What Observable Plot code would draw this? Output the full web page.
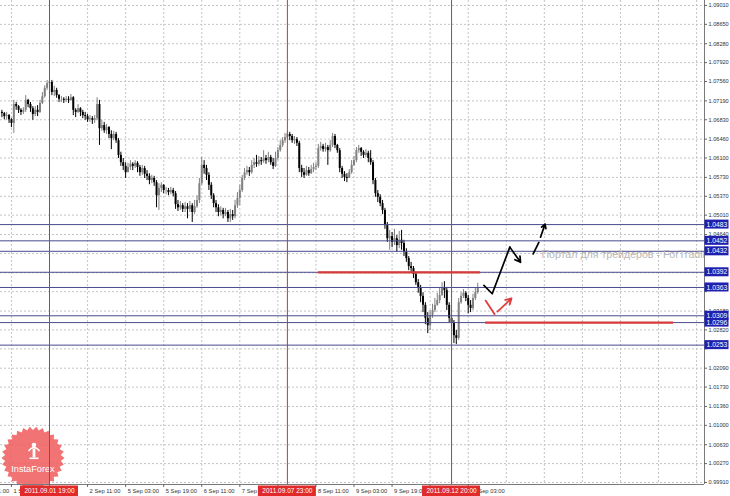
<!DOCTYPE html>
<html><head><meta charset="utf-8">
<script src="https://cdn.jsdelivr.net/npm/d3@7"></script>
<script src="https://cdn.jsdelivr.net/npm/@observablehq/plot@0.6"></script>
<style>body{margin:0;background:#fff}</style>
</head><body><div id="chart"></div>
<script>
// ---- DATA (hourly candles; bar index 0 = 2011.09.01 19:00) ----
const firstBar = -20;
const firstOpen = 1.0697;
const closes = [
1.0695,1.0689,1.0691,1.0683,1.0676,1.0712,1.0708,1.0701,1.0697,1.0701,
1.0720,1.0712,1.0704,1.0693,1.0701,1.0697,1.0714,1.0727,1.0743,1.0752,
1.0754,1.0735,1.0739,1.0729,1.0722,1.0722,1.0720,1.0722,1.0720,1.0725,
1.0701,1.0697,1.0704,1.0697,1.0691,1.0689,1.0683,1.0685,1.0682,1.0685,
1.0712,1.0666,1.0672,1.0662,1.0668,1.0655,1.0647,1.0655,1.0643,1.0615,
1.0601,1.0594,1.0582,1.0592,1.0598,1.0594,1.0600,1.0592,1.0582,1.0590,
1.0579,1.0575,1.0567,1.0571,1.0563,1.0538,1.0552,1.0558,1.0548,1.0548,
1.0544,1.0548,1.0542,1.0521,1.0515,1.0519,1.0512,1.0517,1.0512,1.0519,
1.0506,1.0517,1.0529,1.0561,1.0596,1.0590,1.0577,1.0558,1.0538,1.0523,
1.0515,1.0506,1.0510,1.0502,1.0506,1.0494,1.0502,1.0498,1.0519,1.0533,
1.0548,1.0571,1.0582,1.0586,1.0582,1.0596,1.0601,1.0598,1.0605,1.0603,
1.0609,1.0605,1.0611,1.0601,1.0594,1.0609,1.0624,1.0634,1.0643,1.0649,
1.0655,1.0651,1.0643,1.0645,1.0638,1.0590,1.0582,1.0577,1.0586,1.0580,
1.0588,1.0592,1.0594,1.0628,1.0632,1.0626,1.0630,1.0624,1.0634,1.0651,
1.0634,1.0624,1.0590,1.0579,1.0573,1.0571,1.0582,1.0596,1.0605,1.0624,
1.0628,1.0621,1.0615,1.0619,1.0609,1.0601,1.0567,1.0542,1.0535,1.0523,
1.0510,1.0481,1.0456,1.0460,1.0449,1.0456,1.0443,1.0453,1.0447,1.0430,
1.0418,1.0403,1.0399,1.0388,1.0372,1.0361,1.0346,1.0329,1.0304,1.0290,
1.0310,1.0319,1.0329,1.0338,1.0348,1.0361,1.0357,1.0329,1.0304,1.0296,
1.0271,1.0266,1.0334,1.0346,1.0352,1.0342,1.0329,1.0323,1.0342,1.0353,1.0363];
const highs = [
1.0701,1.0697,1.0697,1.0693,1.0685,1.0720,1.0716,1.0710,1.0704,1.0706,
1.0729,1.0722,1.0716,1.0708,1.0708,1.0710,1.0720,1.0735,1.0748,1.0758,
1.0760,1.0758,1.0747,1.0743,1.0731,1.0727,1.0725,1.0727,1.0727,1.0731,
1.0727,1.0704,1.0712,1.0706,1.0701,1.0697,1.0693,1.0691,1.0689,1.0691,
1.0725,1.0720,1.0682,1.0678,1.0674,1.0670,1.0662,1.0661,1.0659,1.0647,
1.0621,1.0609,1.0601,1.0600,1.0605,1.0601,1.0605,1.0603,1.0596,1.0596,
1.0594,1.0586,1.0580,1.0577,1.0575,1.0567,1.0561,1.0563,1.0559,1.0554,
1.0552,1.0554,1.0552,1.0546,1.0529,1.0527,1.0523,1.0525,1.0523,1.0527,
1.0523,1.0529,1.0538,1.0571,1.0611,1.0605,1.0596,1.0582,1.0563,1.0542,
1.0529,1.0521,1.0517,1.0514,1.0514,1.0510,1.0512,1.0510,1.0529,1.0544,
1.0558,1.0577,1.0590,1.0594,1.0592,1.0605,1.0609,1.0615,1.0613,1.0611,
1.0624,1.0615,1.0621,1.0615,1.0609,1.0621,1.0630,1.0643,1.0649,1.0657,
1.0661,1.0659,1.0655,1.0651,1.0649,1.0642,1.0596,1.0590,1.0594,1.0592,
1.0596,1.0600,1.0601,1.0636,1.0640,1.0636,1.0638,1.0634,1.0643,1.0657,
1.0655,1.0636,1.0628,1.0594,1.0584,1.0580,1.0588,1.0605,1.0613,1.0630,
1.0634,1.0630,1.0624,1.0626,1.0623,1.0624,1.0605,1.0571,1.0548,1.0540,
1.0529,1.0514,1.0487,1.0472,1.0468,1.0474,1.0462,1.0470,1.0472,1.0453,
1.0437,1.0422,1.0411,1.0403,1.0392,1.0378,1.0367,1.0353,1.0334,1.0315,
1.0319,1.0331,1.0342,1.0352,1.0361,1.0372,1.0374,1.0363,1.0334,1.0310,
1.0300,1.0281,1.0342,1.0353,1.0359,1.0355,1.0348,1.0338,1.0350,1.0361,1.0371];
const lows = [
1.0687,1.0683,1.0682,1.0676,1.0668,1.0657,1.0701,1.0695,1.0691,1.0693,
1.0697,1.0706,1.0697,1.0682,1.0689,1.0689,1.0695,1.0712,1.0724,1.0739,
1.0747,1.0729,1.0727,1.0724,1.0716,1.0716,1.0714,1.0716,1.0714,1.0718,
1.0691,1.0687,1.0695,1.0689,1.0685,1.0682,1.0678,1.0678,1.0674,1.0676,
1.0682,1.0634,1.0661,1.0657,1.0655,1.0647,1.0626,1.0643,1.0638,1.0609,
1.0594,1.0586,1.0571,1.0582,1.0586,1.0586,1.0590,1.0582,1.0575,1.0577,
1.0571,1.0567,1.0559,1.0561,1.0556,1.0515,1.0510,1.0544,1.0542,1.0540,
1.0538,1.0540,1.0536,1.0512,1.0508,1.0510,1.0506,1.0506,1.0494,1.0506,
1.0487,1.0502,1.0514,1.0523,1.0558,1.0579,1.0567,1.0548,1.0531,1.0515,
1.0506,1.0498,1.0500,1.0494,1.0498,1.0487,1.0487,1.0491,1.0494,1.0514,
1.0519,1.0544,1.0567,1.0577,1.0575,1.0579,1.0590,1.0592,1.0594,1.0596,
1.0600,1.0598,1.0601,1.0596,1.0588,1.0592,1.0605,1.0621,1.0630,1.0638,
1.0645,1.0643,1.0638,1.0636,1.0632,1.0582,1.0573,1.0571,1.0575,1.0575,
1.0579,1.0582,1.0586,1.0590,1.0623,1.0621,1.0621,1.0596,1.0621,1.0630,
1.0628,1.0619,1.0582,1.0571,1.0565,1.0563,1.0573,1.0579,1.0594,1.0601,
1.0619,1.0613,1.0609,1.0611,1.0601,1.0596,1.0559,1.0535,1.0525,1.0517,
1.0502,1.0474,1.0449,1.0434,1.0439,1.0443,1.0430,1.0437,1.0434,1.0422,
1.0411,1.0395,1.0392,1.0380,1.0367,1.0352,1.0334,1.0315,1.0292,1.0275,
1.0281,1.0304,1.0315,1.0327,1.0332,1.0346,1.0342,1.0319,1.0296,1.0285,
1.0256,1.0254,1.0262,1.0331,1.0342,1.0336,1.0313,1.0315,1.0319,1.0338,1.0350];

// time ticks every 16 bars; labels hidden behind the highlighted boxes are null
const timeTickIdx = [-32,-16,0,16,32,48,64,80,96,112,128,144,160,176];
const timeTickLabels = ["31 Aug 11:00","1 Sep 03:00",null,"2 Sep 11:00","5 Sep 03:00","5 Sep 19:00","6 Sep 11:00","7 Sep 03:00",null,"8 Sep 11:00","9 Sep 03:00","9 Sep 19:00",null,"13 Sep 03:00"];
const priceTicks = [1.0901,1.0865,1.0828,1.0792,1.0756,1.0719,1.0683,1.0646,1.0610,1.0573,1.0537,1.0501,1.0464,1.0428,1.0391,1.0355,1.0318,1.0282,1.0246,1.0209,1.0173,1.0136,1.0100,1.0063,1.0027,0.9991];
const priceTickLabels = ["1.09010","1.08650","1.08280","1.07920","1.07560","1.07190","1.06830","1.06460","1.06100","1.05730","1.05370","1.05010","1.04640",null,null,null,"1.03180","1.02820",null,"1.02090","1.01730","1.01360","1.01000","1.00630","1.00270","0.99910"];
const levels = [1.0483,1.0452,1.0432,1.0392,1.0363,1.0309,1.0296,1.0253];
const levelLabels = ["1.0483","1.0452","1.0432","1.0392","1.0363","1.0309","1.0296","1.0253"];
const markerIdx = [0,100,169];
const markerLabels = ["2011.09.01 19:00","2011.09.07 23:00","2011.09.12 20:00"];
const redLinePrice = [1.0392,1.0296];
const redLineFrom = [113.1,183.3];
const redLineTo = [181.2,262.3];
const blackPathIdx = [182.6,186.1,193.5,198.0];
const blackPathPrice = [1.0367,1.0351,1.0440,1.0411];
const dashPathIdx = [203.3,205.7,206.4,208.3];
const dashPathPrice = [1.0427,1.0449,1.0459,1.0484];
const redPathIdx = [183.3,187.1,188.3,194.2];
const redPathPrice = [1.0338,1.0312,1.0317,1.0342];
const portalText = "Портал для трейдеров - ForTrading";
const portalIdx = 206.8, portalPrice = 1.0426;

// ---- LAYOUT ----
const xDom = [-49/2.379, -49/2.379 + 704/2.379];
const yDom = [1.09105 - 484*0.00019078, 1.09105];
const U = (xDom[1]-xDom[0])/704;
const K = (yDom[1]-yDom[0])/484;
const xR = xDom[1], yB = yDom[0];

const bars = closes.map((c,k)=>{
  const o = k ? closes[k-1] : firstOpen;
  return {i: firstBar+k, o, c, h: Math.max(highs[k],o,c), l: Math.min(lows[k],o,c)};
});
const up = bars.filter(d=>d.c>=d.o), dn = bars.filter(d=>d.c<d.o);
const seg = (xs, ys, a, b) => xs.slice(a,b).map((x,k)=>({x, y: ys[a+k]}));
const timeLabelled = timeTickIdx.map((x,k)=>({x, t: timeTickLabels[k]})).filter(d=>d.t);
const priceLabelled = priceTicks.map((y,k)=>({y, t: priceTickLabels[k]})).filter(d=>d.t);

function logoMark(){
  const g = d3.create("svg:g").attr("opacity",0.9);
  const cx=33, cy=458, R=31.5, r=28, n=30, pts=[];
  for(let k=0;k<2*n;k++){const a=Math.PI*k/n, rr=k%2?r:R; pts.push([cx+rr*Math.cos(a), cy+rr*Math.sin(a)]);}
  g.append("polygon").attr("points", pts.map(p=>p.join(",")).join(" ")).attr("fill","#f06464");
  g.append("circle").attr("cx",34).attr("cy",445).attr("r",2.3).attr("fill","#fff");
  g.append("path").attr("d","M28.5,451 Q34,444 39.5,451").attr("stroke","#fff").attr("stroke-width",1.6).attr("fill","none");
  g.append("rect").attr("x",32.6).attr("y",448.5).attr("width",2.8).attr("height",9).attr("fill","#fff");
  g.append("rect").attr("x",29.5).attr("y",457.5).attr("width",9).attr("height",1.6).attr("fill","#fff");
  g.append("text").attr("x",33).attr("y",472).attr("text-anchor","middle").attr("font-size",9.2)
   .attr("font-family","Liberation Sans, Arial, sans-serif").attr("fill","#fff").text("InstaForex");
  return g.node();
}

const font = "Liberation Sans, Arial, sans-serif";
const chart = Plot.plot({
  width: 730, height: 496,
  marginLeft: 0, marginRight: 26, marginTop: 0, marginBottom: 12,
  style: {background: "#fff", fontFamily: font},
  x: {domain: xDom, axis: null},
  y: {domain: yDom, axis: null},
  marks: [
    Plot.ruleY(priceTicks, {stroke: "#c4c4c4", strokeDasharray: "2,2"}),
    Plot.ruleX(d3.range(-16, xR, 16), {stroke: "#c4c4c4", strokeDasharray: "2,2"}),
    logoMark,
    Plot.ruleX(up, {x: "i", y1: "l", y2: "h", stroke: "#808080", strokeWidth: 1}),
    Plot.ruleX(up, {x: "i", y1: "o", y2: "c", stroke: "#808080", strokeWidth: 2}),
    Plot.ruleX(dn, {x: "i", y1: "l", y2: "h", stroke: "#000", strokeWidth: 1}),
    Plot.ruleX(dn, {x: "i", y1: "o", y2: "c", stroke: "#000", strokeWidth: 2}),
    Plot.ruleY(levels, {stroke: "#4a4a8e", strokeWidth: 1}),
    Plot.ruleX(markerIdx, {stroke: "#c23838", strokeWidth: 1}),
    Plot.ruleY(redLinePrice, {y: d=>d, x1: (d,i)=>redLineFrom[i], x2: (d,i)=>redLineTo[i], stroke: "#d83a3a", strokeWidth: 2.2}),
    Plot.text([portalText], {x: ()=>portalIdx, y: ()=>portalPrice, text: d=>d, textAnchor: "start", fontSize: 10.6, fill: "#b8b8b8", fontFamily: font, clip: true}),
    Plot.line(seg(blackPathIdx, blackPathPrice, 0, 3), {x: "x", y: "y", stroke: "#000", strokeWidth: 1.7}),
    Plot.arrow([0], {x1: ()=>blackPathIdx[2], y1: ()=>blackPathPrice[2], x2: ()=>blackPathIdx[3], y2: ()=>blackPathPrice[3], stroke: "#000", strokeWidth: 1.7, headLength: 7}),
    Plot.line(seg(dashPathIdx, dashPathPrice, 0, 2), {x: "x", y: "y", stroke: "#000", strokeWidth: 1.7}),
    Plot.arrow([0], {x1: ()=>dashPathIdx[2], y1: ()=>dashPathPrice[2], x2: ()=>dashPathIdx[3], y2: ()=>dashPathPrice[3], stroke: "#000", strokeWidth: 1.7, headLength: 7}),
    Plot.line(seg(redPathIdx, redPathPrice, 0, 2), {x: "x", y: "y", stroke: "#e03c3c", strokeWidth: 1.8}),
    Plot.arrow([0], {x1: ()=>redPathIdx[2], y1: ()=>redPathPrice[2], x2: ()=>redPathIdx[3], y2: ()=>redPathPrice[3], stroke: "#e03c3c", strokeWidth: 1.8, headLength: 7}),
    // axes
    Plot.ruleX([xR], {stroke: "#7a7a7a"}),
    Plot.ruleY([yB], {stroke: "#7a7a7a"}),
    Plot.ruleY(priceTicks, {y: d=>d, x1: ()=>xR, x2: ()=>xR+3*U, stroke: "#666"}),
    Plot.text(priceLabelled, {x: ()=>xR+4*U, y: "y", text: "t", textAnchor: "start", fontSize: 5.6, fill: "#333", fontFamily: font}),
    Plot.ruleX(timeTickIdx, {x: d=>d, y1: ()=>yB, y2: ()=>yB-3*K, stroke: "#666"}),
    Plot.text(timeLabelled, {x: d=>d.x+2*U, y: ()=>yB-6.5*K, text: "t", textAnchor: "start", fontSize: 5.8, fill: "#333", fontFamily: font}),
    Plot.rect(levels, {x1: ()=>xR+0.5*U, x2: ()=>xR+24.5*U, y1: d=>d-4.5*K, y2: d=>d+4.5*K, fill: "#1f1fb0"}),
    Plot.text(levels, {x: ()=>xR+12.5*U, y: d=>d, text: (d,i)=>levelLabels[i], fill: "#fff", fontSize: 6.8, fontFamily: font}),
    Plot.rect(markerIdx, {x1: d=>d-29*U, x2: d=>d+29*U, y1: ()=>yB-1.5*K, y2: ()=>yB-12*K, fill: "#e12a2a"}),
    Plot.text(markerIdx, {x: d=>d, y: ()=>yB-6.8*K, text: (d,i)=>markerLabels[i], fill: "#fff", fontSize: 6.5, fontFamily: font})
  ]
});
document.getElementById("chart").appendChild(chart);
</script>
</body></html>
